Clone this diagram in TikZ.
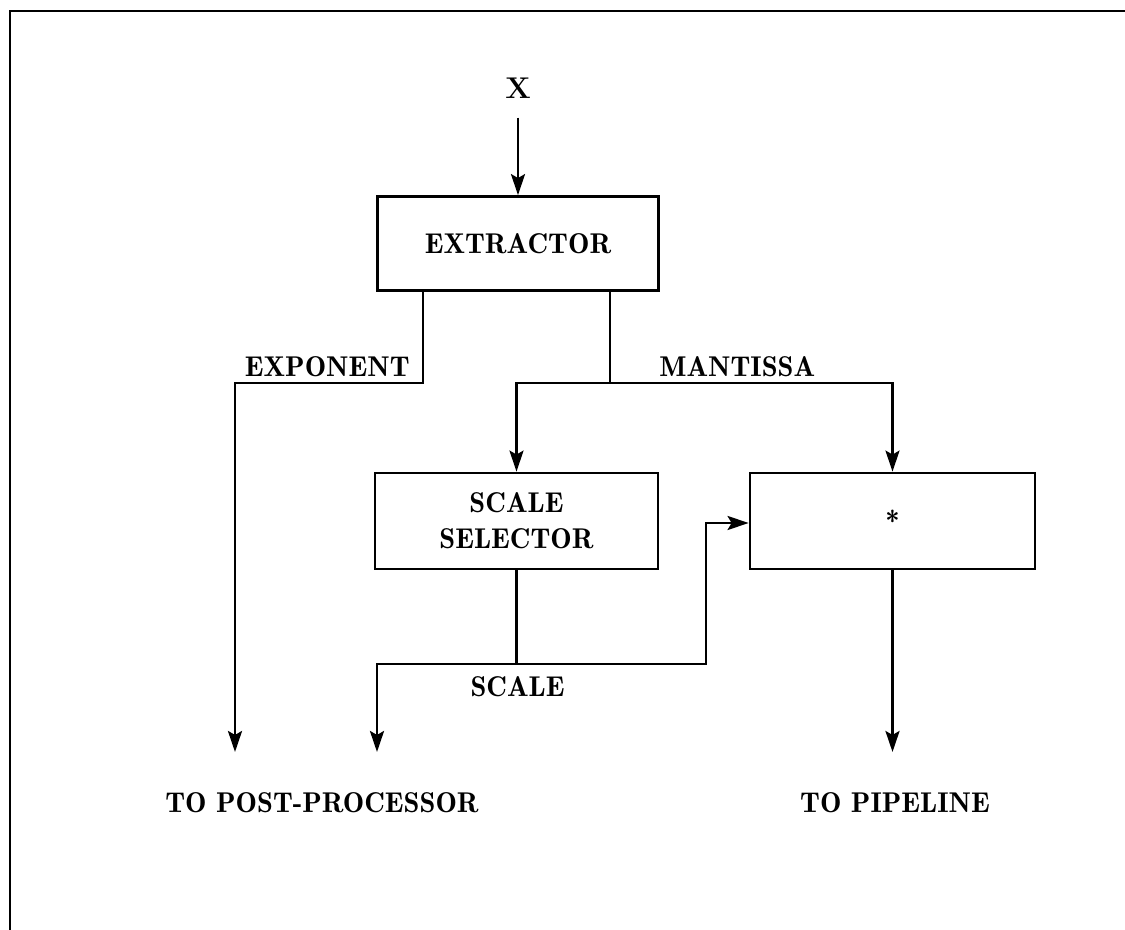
\documentclass[tikz,border=0pt]{standalone}
\usepackage{tikz}
\usetikzlibrary{arrows.meta,positioning,calc}
\newcommand{\labfont}{\fontsize{14.3}{17}\fontseries{b}\selectfont}

\begin{document}
\begin{tikzpicture}[
  x=0.5pt, y=-0.5pt,
  line width=1.4pt,
  unitbox/.style={draw, rectangle, minimum height=47pt, align=center, font=\labfont, inner sep=0pt},
  arr/.style={-{Stealth[length=10.5pt, width=7pt, inset=2pt]}},
  lbl/.style={font=\labfont, inner sep=0pt}
]
  \useasboundingbox (0,0) rectangle (1125,930);
  % frame (only top and left edges are visible)
  \draw (10,930) -- (10,11) -- (1125,11);

  \node[font=\fontsize{15}{18}\fontseries{bx}\selectfont, inner sep=0pt] (x) at (518,88) {X};
  \node[unitbox, minimum width=140.5pt] (extractor) at (518,243.5) {EXTRACTOR};
  \node[unitbox, minimum width=141.5pt, minimum height=48pt] (selector) at (516.5,521) {SCALE\\[1pt]SELECTOR};
  \node[unitbox, minimum width=142.5pt, minimum height=48pt] (mult) at (892.5,521) {*};

  \node[lbl, anchor=east] (exponent) at (411,367) {EXPONENT};
  \node[lbl, anchor=west] (mantissa) at (658,367) {MANTISSA};
  \node[lbl, anchor=east] (scale) at (566,687) {SCALE};
  \node[lbl] (post) at (322,803) {TO POST-PROCESSOR};
  \node[lbl] (pipeline) at (895,803) {TO PIPELINE};

  \coordinate (eturn) at (423,383);
  \coordinate (msplit) at (610,383);
  \coordinate (sjoin) at (selector.south |- 0,664);
  \coordinate (sin) at (706,523);
  \coordinate (postA) at (235,752);
  \coordinate (postB) at (377,752);
  \coordinate (pipeA) at (mult.south |- postA);

  \draw[arr] ([yshift=-9pt]x.south) -- (extractor.north);
  \draw[arr] (extractor.south -| eturn) -- (eturn) -| (postA);
  \draw (extractor.south -| msplit) -- (msplit);
  \draw[arr] (msplit) -| (selector.north);
  \draw[arr] (msplit) -| (mult.north);
  \draw (selector.south) -- (sjoin);
  \draw[arr] (sjoin) -| (postB);
  \draw[arr] (sjoin) -| (sin) -- (sin -| mult.west);
  \draw[arr] (mult.south) -- (pipeA);
\end{tikzpicture}
\end{document}
